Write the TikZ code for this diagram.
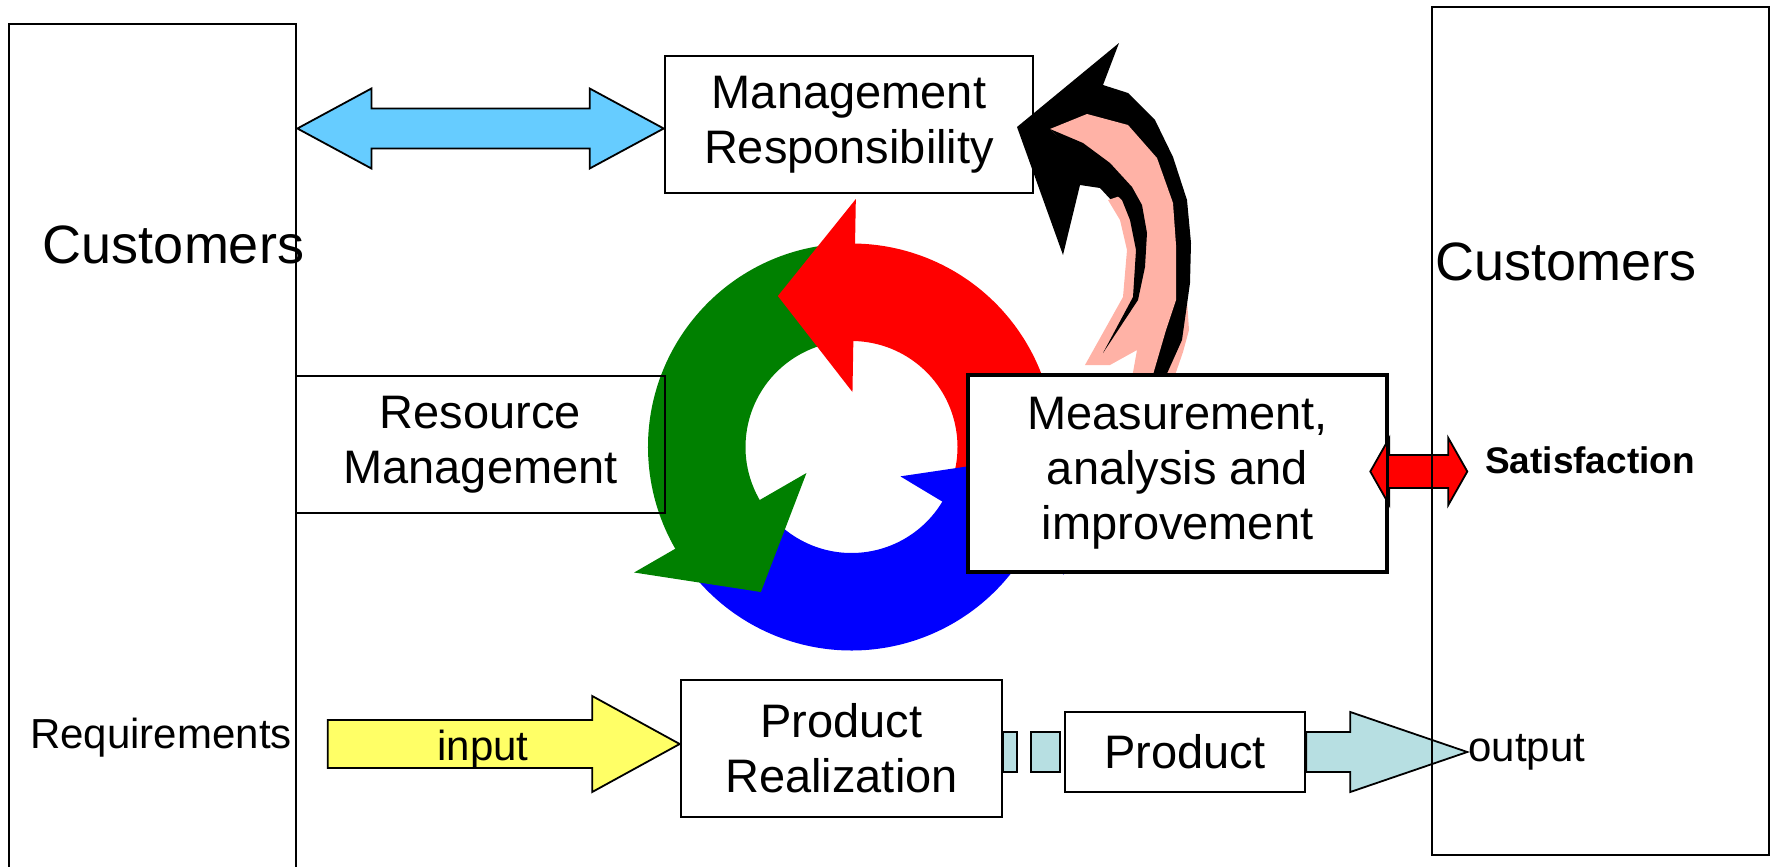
\documentclass[tikz,border=0pt]{standalone}
\usepackage{fontspec}
\setmainfont{Liberation Sans}
\usepackage{xcolor}
\usetikzlibrary{calc}

\definecolor{skyblue}{RGB}{102,204,255}
\definecolor{lemon}{RGB}{255,255,102}
\definecolor{paleteal}{RGB}{183,223,226}
\definecolor{salmonpink}{RGB}{255,178,166}
\definecolor{ringgreen}{RGB}{0,128,0}

\tikzset{
  box/.style={draw, line width=1.3pt, inner sep=0pt, align=center,
    font=\fontsize{23.5}{27.5}\selectfont},
  bigbox/.style={draw, line width=1.4pt, inner sep=0pt},
  blockarrow/.style={draw, line width=0.9pt, line join=miter},
  lbl/.style={inner sep=0pt, anchor=base},
}

\begin{document}
\begin{tikzpicture}[x=0.5pt, y=-0.5pt]
\useasboundingbox (0,0) rectangle (1773,867);

% customers on the left
\node[bigbox, minimum width=143.5pt, minimum height=428pt] (custL) at (152.5,452) {};
\node[lbl, font=\fontsize{27}{30}\selectfont] (custLtxt) at (173.5,263.5) {Customers};
\node[lbl, font=\fontsize{21}{24}\selectfont] (req) at (161,748) {Requirements};

% management responsibility
\node[box, fill=white, minimum width=184pt, minimum height=68.5pt] (mr) at (849,124.5) {Management\\Responsibility};
\coordinate (mrtip) at ($(mr.west)+(0,4)$);
\coordinate (cltip) at (custL.east |- mrtip);
\draw[blockarrow, fill=skyblue] (cltip) -- ++(74,-40) -- ++(0,20) -- ($(mrtip)+(-74,-20)$) -- ++(0,-20) -- (mrtip)
  -- ++(-74,40) -- ++(0,-20) -- ($(cltip)+(74,20)$) -- ++(0,20) -- cycle;

% ring of three arrows, shafts run a little under their heads
\begin{scope}[shift={(851.5,447)}, yscale=-1]
\fill[red] (-24:106) -- (-24:203.5) arc[start angle=-24, end angle=91, radius=203.5] -- (91:106) arc[start angle=91, end angle=-24, radius=106] -- cycle;
\fill[ringgreen] (96:106) -- (96:203.5) arc[start angle=96, end angle=212, radius=203.5] -- (212:106) arc[start angle=212, end angle=96, radius=106] -- cycle;
\fill[blue] (216:106) -- (216:203.5) arc[start angle=216, end angle=331, radius=203.5] -- (331:106) arc[start angle=331, end angle=216, radius=106] -- cycle;
\fill[red] (89:55) -- (89:248) -- (116:168) -- cycle;
\fill[ringgreen] (210:52) -- (210:251) -- (238:171) -- cycle;
\fill[blue] (329:57) -- (329:248) -- (356:168) -- cycle;
\end{scope}

% resource management, frame over the ring
\node[box, minimum width=184.5pt, minimum height=68.5pt] (rm) at (480.5,444.5) {Resource\\Management};

% curved arrow back up to management
\fill[salmonpink] (1186,285) -- (1189,330) -- (1183,352) -- (1174,378) -- (1160,378) -- (1178,300) -- cycle;
\fill[black] (1017,127) -- (1119,43) -- (1103,85) -- (1128,93) -- (1155,120) -- (1173,157) -- (1187,200) -- (1191,243)
  -- (1190,283) -- (1182,340) -- (1165,378) -- (1150,378) -- (1140,300) -- (1135,250) -- (1125,215) -- (1100,188)
  -- (1080,185) -- (1063,255) -- cycle;
\fill[salmonpink] (1050,129) -- (1087,114) -- (1128,125) -- (1157,158) -- (1173,203) -- (1176,245) -- (1176,300)
  -- (1166,330) -- (1152,378) -- (1132,378) -- (1137,350) -- (1110,365) -- (1085,365) -- (1123,297) -- (1127,250)
  -- (1120,220) -- (1108,200) -- (1120,196) -- cycle;
\fill[black] (1050,129) -- (1083,143) -- (1110,163) -- (1132,187) -- (1142,205) -- (1147,233) -- (1145,267) -- (1138,300)
  -- (1103,353) -- (1133,297) -- (1136,250) -- (1130,220) -- (1122,200) -- (1100,180) -- (1075,155) -- cycle;

% measurement, analysis and improvement
\node[box, fill=white, minimum width=208.5pt, minimum height=97.5pt] (mai) at (1177.5,473.5) {Measurement,\\analysis and\\improvement};
\coordinate (satL) at ($(mai.east)+(-17,-2)$);
\coordinate (satR) at ($(satL)+(97,0)$);
\draw[blockarrow, fill=red] (satL) -- ++(19,-33.5) -- ++(0,17) -- ($(satR)+(-19,-16.5)$) -- ++(0,-17) -- (satR)
  -- ++(-19,33.5) -- ++(0,-17) -- ($(satL)+(19,16.5)$) -- ++(0,17) -- cycle;
\draw[line width=1.3pt] (mai.north west) rectangle (mai.south east);

% product realization
\node[box, minimum width=160.5pt, minimum height=68.5pt] (pr) at (841.5,748.5) {Product\\Realization};
\coordinate (intip) at ($(pr.west)+(0,-4.5)$);
\draw[blockarrow, fill=lemon] (intip) -- ++(-87.5,-48) -- ++(0,24) -- ($(intip)+(-352,-24)$) -- ++(0,48)
  -- ($(intip)+(-87.5,24)$) -- ++(0,24) -- cycle;
\node[lbl, font=\fontsize{21}{24}\selectfont] (inlbl) at (483,760) {input};

% product
\node[box, minimum width=120pt, minimum height=40pt] (prod) at (1185,752) {Product};
\draw[blockarrow, fill=paleteal] ($(pr.east |- prod.east)+(0,-20)$) rectangle ++(14,40);
\draw[blockarrow, fill=paleteal] ($(pr.east |- prod.east)+(28,-20)$) rectangle ++(29,40);
\draw[blockarrow, fill=paleteal] ($(prod.east)+(0,-20)$) -- ++(44,0) -- ++(0,-20) -- ($(prod.east)+(161,0)$)
  -- ($(prod.east)+(44,40)$) -- ++(0,-20) -- ($(prod.east)+(0,20)$) -- cycle;
\node[lbl, anchor=base west, font=\fontsize{21}{24}\selectfont] (outlbl) at (1468,761.5) {output};

% customers on the right
\node[bigbox, minimum width=168.5pt, minimum height=424pt] (custR) at (1600.5,431) {};
\node[lbl, font=\fontsize{27}{30}\selectfont] (custRtxt) at (1566,280.5) {Customers};
\node[lbl, font=\bfseries\fontsize{18.5}{22}\selectfont] (sat) at (1590,473) {Satisfaction};
\end{tikzpicture}
\end{document}
